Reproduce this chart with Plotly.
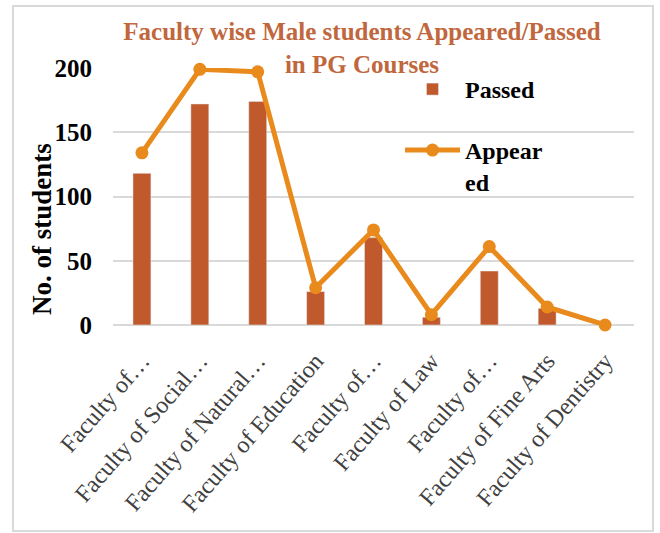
import plotly.graph_objects as go

categories = ["Faculty of…", "Faculty of Social…", "Faculty of Natural…", "Faculty of Education",
              "Faculty of…", "Faculty of Law", "Faculty of…", "Faculty of Fine Arts", "Faculty of Dentistry"]
passed = [118, 172, 174, 26, 68, 6, 42, 13, 0]
appeared = [134, 199, 197, 29, 74, 8, 61, 14, 0]
y_ticks = [0, 50, 100, 150, 200]

xpos = list(range(len(categories)))
FONT = "Liberation Serif"

# plot area in pixels
L, R, T, B = 113, 26, 68, 208
PW, PH = 660 - L - R, 533 - T - B

fig = go.Figure()
fig.add_trace(go.Bar(x=xpos, y=passed, name="Passed", marker_color="#C0592B",
                     width=0.31, legend="legend", showlegend=True))
fig.add_trace(go.Scatter(x=xpos, y=appeared, name="Appear<br>ed", mode="lines+markers",
                         line=dict(color="#E98A1D", width=5), marker=dict(size=13, color="#E98A1D"),
                         cliponaxis=False, legend="legend2", showlegend=True))

fig.update_layout(
    width=660, height=533,
    margin=dict(l=L, r=R, t=T, b=B),
    paper_bgcolor="white", plot_bgcolor="white",
    showlegend=True,
    title=dict(text="Faculty wise Male students Appeared/Passed<br>in PG Courses",
               font=dict(family=FONT, size=25, color="#C0673E", weight="bold"),
               x=362 / 660, xanchor="center", y=1 - 40 / 533, yanchor="top", yref="container"),
    xaxis=dict(tickvals=xpos, ticktext=categories, tickangle=-49, range=[-0.5, 8.5],
               tickfont=dict(family=FONT, size=24, color="#404040"), showgrid=False,
               showline=False, ticks="", automargin=False, ticklabelstandoff=16),
    yaxis=dict(range=[0, 200], tickvals=y_ticks, showgrid=True, gridcolor="#D9D9D9", gridwidth=2,
               zeroline=True, zerolinecolor="#D9D9D9", zerolinewidth=2, automargin=False,
               tickfont=dict(family=FONT, size=25, color="black", weight="bold"),
               ticklabelstandoff=20),
    annotations=[dict(text="<b>No. of students</b>", textangle=-90, xref="paper", yref="paper",
                      x=(42 - L) / PW, y=(533 - B - 229) / PH, xanchor="center", yanchor="middle",
                      showarrow=False, font=dict(family=FONT, size=27, color="black"))],
    legend=dict(x=(400 - L) / PW, y=(325 - 67) / PH, xanchor="left", yanchor="top",
                bgcolor="rgba(0,0,0,0)", itemwidth=55,
                font=dict(family=FONT, size=24, color="black", weight="bold")),
    legend2=dict(x=(400 - L) / PW, y=(325 - 128) / PH, xanchor="left", yanchor="top",
                 bgcolor="rgba(0,0,0,0)", valign="top", itemwidth=55,
                 font=dict(family=FONT, size=24, color="black", weight="bold")),
    shapes=[dict(type="rect", xref="paper", yref="paper",
                 x0=(13 - L) / PW, x1=(653 - L) / PW,
                 y0=(533 - B - 531) / PH, y1=(533 - B - 6) / PH,
                 line=dict(color="#D9D9D9", width=2), layer="below")],
)

fig.write_html("out.html", config={"displayModeBar": False},
               post_script="document.body.style.margin='0';")
